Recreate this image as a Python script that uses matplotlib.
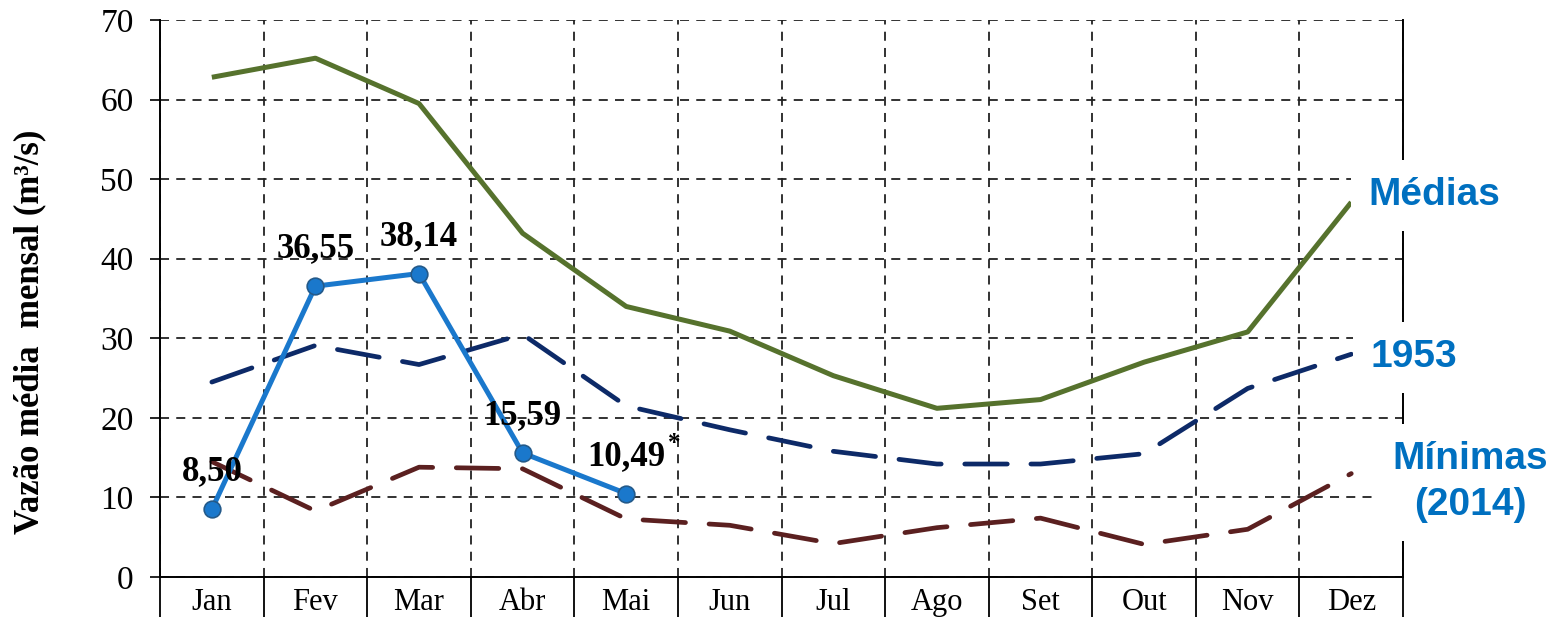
import matplotlib
matplotlib.use("Agg")
import matplotlib.pyplot as plt

meses = ["Jan", "Fev", "Mar", "Abr", "Mai", "Jun", "Jul", "Ago", "Set", "Out", "Nov", "Dez"]
medias = [62.8, 65.2, 59.5, 43.2, 34.0, 30.9, 25.3, 21.2, 22.3, 27.0, 30.8, 47.1]
ano_1953 = [24.5, 29.1, 26.7, 30.5, 21.5, 18.5, 15.8, 14.2, 14.2, 15.5, 23.7, 28.0]
minimas = [14.5, 8.3, 13.8, 13.6, 7.3, 6.5, 4.2, 6.2, 7.4, 4.1, 6.0, 13.0]
vazao_2014 = [8.50, 36.55, 38.14, 15.59, 10.49]
rotulos_2014 = ["8,50", "36,55", "38,14", "15,59", "10,49"]

serif = "Liberation Serif"
sans = "Liberation Sans"

fig = plt.figure(figsize=(15.6, 6.17), dpi=100)
ax = fig.add_axes([0.1026, 0.0648, 0.7968, 0.9028])

x = list(range(len(meses)))
ax.plot(x, medias, color="#56722d", lw=3.6, solid_capstyle="butt", zorder=4)
ax.plot(x, ano_1953, color="#0d2a68", lw=3.4, dashes=(9, 5), dash_capstyle="round", zorder=4)
ax.plot(x, minimas, color="#5b2020", lw=3.4, dashes=(9, 5), dash_capstyle="round", zorder=4)
ax.plot(x[:len(vazao_2014)], vazao_2014, color="#1a78cc", lw=3.6, marker="o", ms=12,
        mfc="#1a78cc", mec="#245a8a", mew=1.2, zorder=5)

for xi, yi, txt in zip(x, vazao_2014, rotulos_2014):
    ax.annotate(txt, (xi, yi), xytext=(0, 15), textcoords="offset points",
                ha="center", va="bottom", fontsize=25, fontweight="bold",
                family=serif, zorder=6)
# asterisco do ultimo valor (dado parcial)
ax.annotate("*", (x[len(vazao_2014) - 1], vazao_2014[-1]), xytext=(30, 28),
            textcoords="offset points", ha="left", va="bottom", fontsize=18,
            fontweight="bold", family=serif, zorder=6)

ax.set_xlim(-0.5, 11.5)
ax.set_ylim(0, 70)
ax.set_yticks(range(0, 71, 10))
ax.set_xticks([i - 0.5 for i in range(13)])
ax.set_xticklabels([])
ax.set_xticks(x, minor=True)
ax.set_xticklabels(meses, minor=True)
ax.tick_params(axis="x", which="major", direction="out", length=30, width=1.3, color="black")
ax.tick_params(axis="x", which="minor", length=0, pad=8, labelsize=22)
ax.tick_params(axis="y", direction="out", length=7, width=1.2, pad=12, labelsize=24)
for lab in ax.get_xticklabels(minor=True) + ax.get_yticklabels():
    lab.set_family(serif)

ax.grid(True, which="major", color="#222222", lw=1.3, dashes=(5, 4))
ax.set_axisbelow(True)
ax.spines["top"].set_visible(False)
for s in ["left", "bottom", "right"]:
    ax.spines[s].set_linewidth(1.4)
    ax.spines[s].set_color("black")

ax.set_ylabel("Vazão média  mensal (m³/s)", family=serif, fontsize=25,
              fontweight="bold", va="center")
ax.yaxis.set_label_coords(-0.105, 0.44)

caixa = dict(boxstyle="square,pad=0.45", fc="white", ec="none")
estilo = dict(color="#0070c0", fontsize=28, fontweight="bold", family=sans,
              ha="center", va="center", bbox=caixa, clip_on=False, zorder=7)
ax.text(11.8, 48.0, "Médias", **estilo)
ax.text(11.6, 27.6, "1953", **estilo)
ax.text(12.15, 11.9, "Mínimas\n(2014)", linespacing=1.35, **estilo)

fig.savefig("out.png", dpi=100)
